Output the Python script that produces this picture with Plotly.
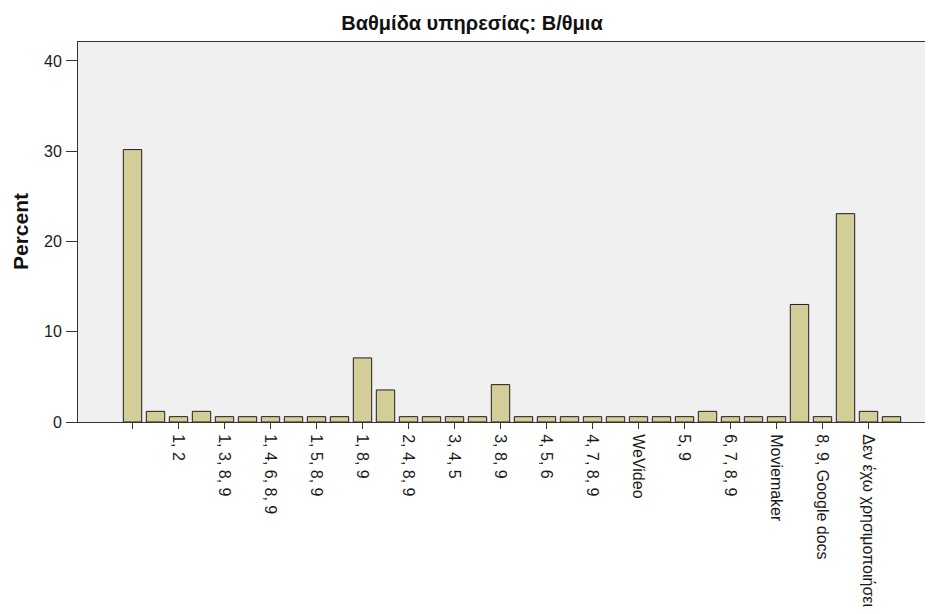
import plotly.graph_objects as go

# Percent of respondents per answer combination (Βαθμίδα υπηρεσίας: Β/θμια)
values = [30.18, 1.18, 0.59, 1.18, 0.59, 0.59, 0.59, 0.59, 0.59, 0.59,
          7.10, 3.55, 0.59, 0.59, 0.59, 0.59, 4.14, 0.59, 0.59, 0.59,
          0.59, 0.59, 0.59, 0.59, 0.59, 1.18, 0.59, 0.59, 0.59, 13.02,
          0.59, 23.08, 1.18, 0.59]
positions = list(range(len(values)))

# Only every other category is labelled on the axis
tick_positions = list(range(0, len(values), 2))
tick_labels = ["", "1, 2", "1, 3, 8, 9", "1, 4, 6, 8, 9", "1, 5, 8, 9", "1, 8, 9",
               "2, 4, 8, 9", "3, 4, 5", "3, 8, 9", "4, 5, 6", "4, 7, 8, 9",
               "WeVideo", "5, 9", "6, 7, 8, 9", "Moviemaker", "8, 9, Google docs",
               "Δεν έχω χρησιμοποιήσει"]
y_ticks = [0, 10, 20, 30, 40]

FONT = "Liberation Sans, Arial, sans-serif"
OFF = 8  # default page body margin
W, H = 933 - OFF, 614 - OFF
ML, MT, MR = 78 - OFF, 42 - OFF, 0
MB = H - (422 - OFF)

fig = go.Figure(go.Bar(
    x=positions, y=values, width=0.8,
    marker=dict(color="#D3CE98", line=dict(color="#1e1e1e", width=1)),
    hoverinfo="y",
))

plot_w = W - ML - MR
x0 = -54.5 / 23.0
x1 = x0 + plot_w / 23.0

fig.update_layout(
    width=W, height=H,
    margin=dict(l=ML, r=MR, t=MT, b=MB, autoexpand=False),
    paper_bgcolor="white", plot_bgcolor="#F0F0F0",
    showlegend=False,
    font=dict(family=FONT, size=16, color="#1a1a1a"),
    title=dict(text="Βαθμίδα υπηρεσίας: Β/θμια", x=(472 - OFF) / W, xanchor="center",
               y=1 - (23 - OFF) / H, yanchor="middle",
               font=dict(family=FONT, size=20, color="#111", weight="bold")),
    xaxis=dict(range=[x0, x1], tickmode="array", tickvals=tick_positions,
               ticktext=tick_labels, tickangle=90, ticks="outside", ticklen=6,
               tickcolor="#333", tickwidth=1, showgrid=False, zeroline=False,
               showline=True, linecolor="#333", linewidth=1, mirror=True,
               automargin=False, ticklabelstandoff=2,
               tickfont=dict(size=16, color="#1a1a1a")),
    yaxis=dict(range=[0, 42.1], tickmode="array", tickvals=y_ticks,
               ticks="outside", ticklen=11, tickcolor="#333", tickwidth=1,
               showgrid=False, zeroline=False, showline=True, linecolor="#333",
               linewidth=1, automargin=False, ticklabelstandoff=1,
               tickfont=dict(size=16, color="#1a1a1a")),
    annotations=[dict(text="Percent", xref="paper", yref="paper",
                      x=(20 - 78) / plot_w, y=0.5, xanchor="center", yanchor="middle",
                      textangle=-90, showarrow=False,
                      font=dict(family=FONT, size=21, color="#111", weight="bold"))],
)

fig.write_html("out.html")
